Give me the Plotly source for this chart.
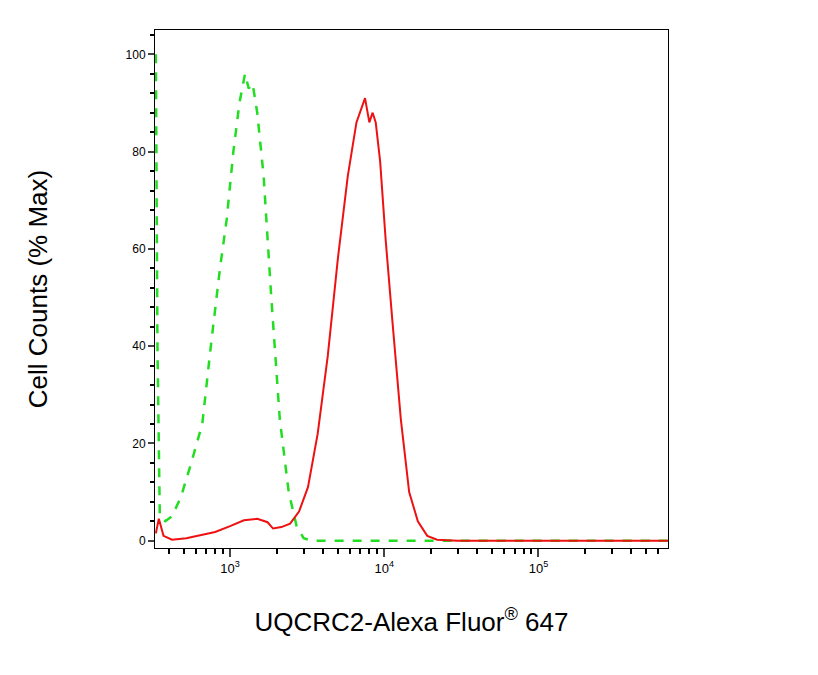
import plotly.graph_objects as go

red_x = [330, 345, 370, 420, 520, 640, 800, 1000, 1230, 1500, 1750, 1900, 2150, 2450, 2800, 3200, 3700, 4300, 5000, 5800, 6600, 7500, 8000, 8400, 8800, 9400, 10200, 11300, 12800, 14500, 16500, 19000, 22000, 30000, 100000, 700000]
red_y = [1.5, 4.5, 1.0, 0.2, 0.5, 1.2, 1.8, 3.0, 4.2, 4.5, 3.8, 2.5, 2.8, 3.5, 6, 11, 22, 38, 58, 75, 86, 91, 86, 88, 86, 78, 62, 45, 25, 10, 4, 1, 0.2, 0, 0, 0]
green_x = [330, 338, 350, 380, 420, 480, 560, 660, 750, 860, 950, 1050, 1150, 1250, 1320, 1400, 1500, 1650, 1850, 2100, 2400, 2700, 3000, 3400, 5000, 10000, 30000, 700000]
green_y = [100, 40, 5, 4, 5, 9, 16, 24, 40, 56, 66, 80, 90, 96, 93, 94, 88, 75, 50, 25, 10, 3, 0.5, 0, 0, 0, 0, 0]

fig = go.Figure()
fig.add_trace(go.Scatter(x=green_x, y=green_y, mode="lines", line=dict(color="#22dd22", width=2.5, dash="dash")))
fig.add_trace(go.Scatter(x=red_x, y=red_y, mode="lines", line=dict(color="#ee1111", width=2)))
fig.update_layout(
    width=818, height=675, showlegend=False, plot_bgcolor="white", paper_bgcolor="white",
    margin=dict(l=147, r=158, t=22, b=135, autoexpand=False),
    font=dict(family="Liberation Sans", color="black"),
    xaxis=dict(type="log", range=[2.513, 5.84], showgrid=False, zeroline=False, showline=True, mirror=True,
               linecolor="black", linewidth=1, ticks="outside", ticklen=8, tickwidth=2,
               tickvals=[1000, 10000, 100000], ticktext=["10<sup>3</sup>", "10<sup>4</sup>", "10<sup>5</sup>"],
               tickfont=dict(size=13),
               minor=dict(tickvals=[400,500,600,700,800,900,2000,3000,4000,5000,6000,7000,8000,9000,20000,30000,40000,50000,60000,70000,80000,90000,200000,300000,400000,500000,600000],
                          ticks="outside", ticklen=5, tickcolor="black"),
               title=dict(text="UQCRC2-Alexa Fluor<sup>®</sup> 647", font=dict(size=26), standoff=38)),
    yaxis=dict(range=[-1.5, 105], showgrid=False, zeroline=False, showline=True, mirror=True,
               linecolor="black", linewidth=1, ticks="outside", ticklen=6, tickwidth=2,
               tickvals=[0, 20, 40, 60, 80, 100], tickfont=dict(size=12),
               minor=dict(dtick=4, ticks="outside", ticklen=4, tickcolor="black"),
               title=dict(text="Cell Counts (% Max)", font=dict(size=26), standoff=70)),
)
fig.write_html("out.html")
